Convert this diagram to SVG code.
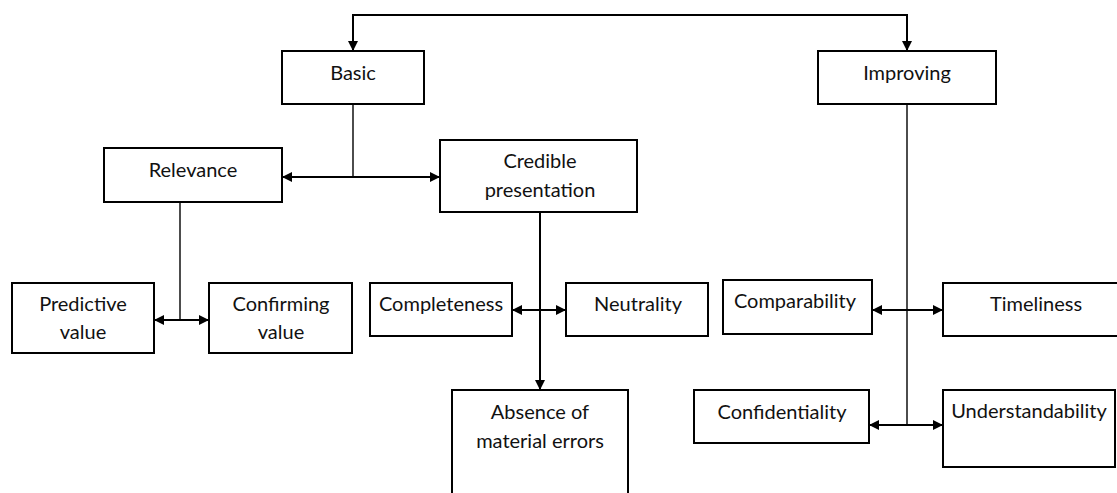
<svg xmlns="http://www.w3.org/2000/svg" width="1117" height="493" viewBox="0 0 1117 493">
<defs>
<marker id="ah" viewBox="0 0 10 10" refX="10" refY="5" markerWidth="10" markerHeight="10" markerUnits="userSpaceOnUse" orient="auto-start-reverse">
<path d="M0,0 L10,5 L0,10 Z" fill="#000"/>
</marker>
</defs>
<style>
.box{fill:#fff;stroke:#000;stroke-width:2}
.t{font-family:Lato,"Liberation Sans",sans-serif;font-size:20px;fill:#111;text-anchor:middle;dominant-baseline:central}
.c{fill:none;stroke:#000;stroke-width:2}
.thin{fill:none;stroke:#000;stroke-width:1.4}
</style>
<rect width="1117" height="493" fill="#fff"/>
<g id="connectors">
<path class="c" d="M353,51 V15 H907 V51" marker-start="url(#ah)" marker-end="url(#ah)"/>
<path class="thin" d="M353,104 V177"/>
<path class="c" d="M282,177 H440" marker-start="url(#ah)" marker-end="url(#ah)"/>
<path class="thin" d="M180,202 V320"/>
<path class="c" d="M154,320 H209" marker-start="url(#ah)" marker-end="url(#ah)"/>
<path class="c" d="M540,212 V390" marker-end="url(#ah)"/>
<path class="c" d="M512,310 H566" marker-start="url(#ah)" marker-end="url(#ah)"/>
<path class="thin" d="M907,104 V425"/>
<path class="c" d="M872,310 H943" marker-start="url(#ah)" marker-end="url(#ah)"/>
<path class="c" d="M869,425 H943" marker-start="url(#ah)" marker-end="url(#ah)"/>
</g>
<g id="basic"><rect class="box" x="282" y="51" width="142" height="53"/><text class="t" x="353" y="72">Basic</text></g>
<g id="improving"><rect class="box" x="818" y="51" width="178" height="53"/><text class="t" x="907" y="72">Improving</text></g>
<g id="relevance"><rect class="box" x="104" y="148" width="178" height="54"/><text class="t" x="193" y="169">Relevance</text></g>
<g id="credible"><rect class="box" x="440" y="140" width="197" height="72"/><text class="t" x="540" y="160">Credible</text><text class="t" x="540" y="189">presentation</text></g>
<g id="predictive"><rect class="box" x="12" y="283" width="142" height="70"/><text class="t" x="83" y="303">Predictive</text><text class="t" x="83" y="331">value</text></g>
<g id="confirming"><rect class="box" x="209" y="283" width="143" height="70"/><text class="t" x="281" y="303">Confirming</text><text class="t" x="281" y="331">value</text></g>
<g id="completeness"><rect class="box" x="370" y="283" width="142" height="53"/><text class="t" x="441" y="303">Completeness</text></g>
<g id="neutrality"><rect class="box" x="566" y="283" width="142" height="53"/><text class="t" x="638" y="303">Neutrality</text></g>
<g id="absence"><rect class="box" x="452" y="390" width="176" height="115"/><text class="t" x="540" y="411">Absence of</text><text class="t" x="540" y="440">material errors</text></g>
<g id="comparability"><rect class="box" x="723" y="280" width="149" height="54"/><text class="t" x="795" y="300">Comparability</text></g>
<g id="timeliness"><rect class="box" x="943" y="283" width="190" height="53"/><text class="t" x="1036" y="303">Timeliness</text></g>
<g id="confidentiality"><rect class="box" x="694" y="390" width="175" height="53"/><text class="t" x="782" y="411">Confidentiality</text></g>
<g id="understandability"><rect class="box" x="943" y="390" width="172" height="77"/><text class="t" x="1029" y="410">Understandability</text></g>
</svg>
